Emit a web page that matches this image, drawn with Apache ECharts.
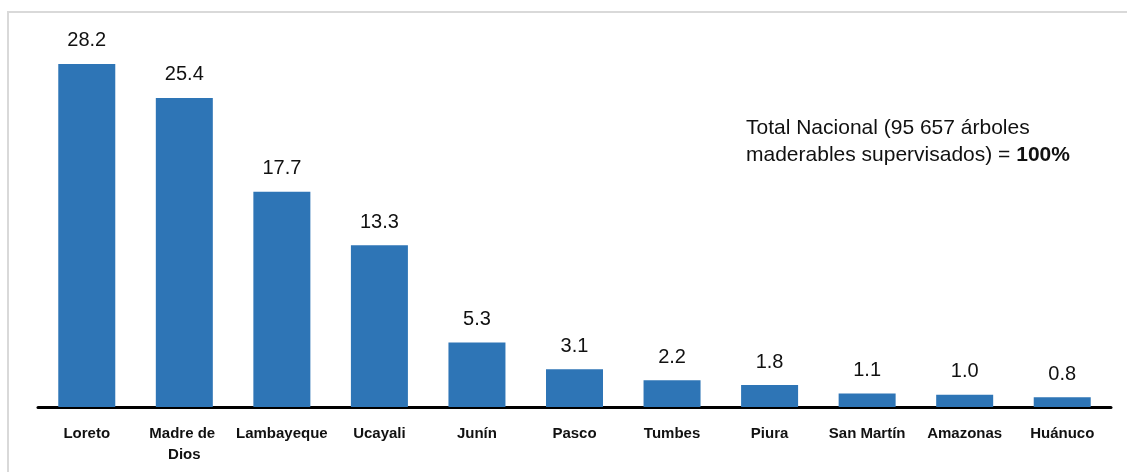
<!DOCTYPE html>
<html>
<head>
<meta charset="utf-8">
<script src="https://cdn.jsdelivr.net/npm/echarts@6/dist/echarts.min.js"></script>
<style>html,body{margin:0;padding:0;background:#fff}#c{width:1127px;height:472px}</style>
</head>
<body>
<div id="c"></div>
<script>
const categories = ['Loreto','Madre de Dios','Lambayeque','Ucayali','Junín','Pasco','Tumbes','Piura','San Martín','Amazonas','Huánuco'];
const values = [28.2,25.4,17.7,13.3,5.3,3.1,2.2,1.8,1.1,1.0,0.8];
const noteLine1 = 'Total Nacional (95 657 árboles';
const noteLine2a = 'maderables supervisados) = ';
const noteLine2b = '100%';

const FONT = '"Liberation Sans",Arial,sans-serif';
const chart = echarts.init(document.getElementById('c'), null, {renderer:'canvas'});
chart.setOption({
  animation:false,
  backgroundColor:'#fff',
  grid:{left:38,right:16,top:42,bottom:65,containLabel:false},
  xAxis:{
    type:'category',
    data:categories,
    axisLine:{show:true,lineStyle:{color:'#000',width:3}},
    axisTick:{show:false},
    axisLabel:{interval:0,margin:16,color:'#111',fontFamily:FONT,fontWeight:'bold',fontSize:15,lineHeight:21,width:97,overflow:'break'}
  },
  yAxis:{type:'value',min:0,max:30,show:false,splitLine:{show:false}},
  series:[{
    type:'bar',
    data:values,
    barWidth:57,
    itemStyle:{color:'#2E75B6'},
    label:{show:true,position:'top',distance:13,color:'#111',fontFamily:FONT,fontSize:20,formatter:p=>p.value.toFixed(1)}
  }],
  graphic:[
    {type:'rect',shape:{x:8,y:12,width:1300,height:700},style:{fill:'none',stroke:'#d9d9d9',lineWidth:2},silent:true,z:-1},
    {type:'text',left:746,top:118,style:{rich:{n:{fontFamily:FONT,fontSize:21,fill:'#111',lineHeight:27},b:{fontFamily:FONT,fontSize:21,fontWeight:'bold',fill:'#111',lineHeight:27}},text:'{n|'+noteLine1+'}\n{n|'+noteLine2a+'}{b|'+noteLine2b+'}'}}
  ]
});
</script>
</body>
</html>
